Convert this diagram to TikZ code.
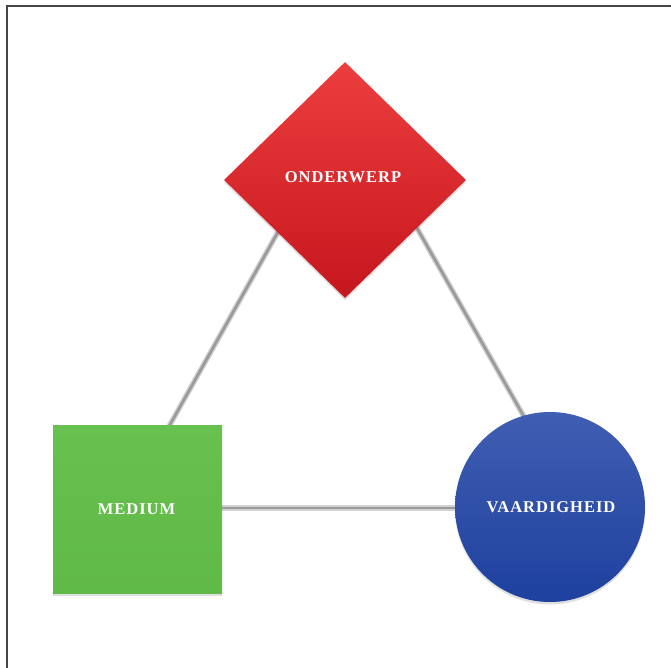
\documentclass[tikz,border=0pt]{standalone}
\usepackage{fontspec}
\newfontfamily\labelfont[LetterSpace=6]{Liberation Serif}
\usetikzlibrary{shapes.geometric,shadows}
\pgfdeclarelayer{background}
\pgfsetlayers{background,main}
\definecolor{redtop}{RGB}{236,62,62}
\definecolor{redbot}{RGB}{198,22,30}
\definecolor{greenfill}{RGB}{96,186,72}
\definecolor{greentop}{RGB}{104,192,78}
\definecolor{bluetop}{RGB}{64,94,178}
\definecolor{bluebot}{RGB}{30,64,158}
\definecolor{frameline}{RGB}{70,70,70}
\definecolor{linkouter}{RGB}{210,210,210}
\definecolor{linkinner}{RGB}{155,155,155}
\tikzset{
  lbl/.style={text=white,font=\labelfont\bfseries\fontsize{16.5}{18}\selectfont},
  shapebox/.style={draw=none,inner sep=0pt,
    drop shadow={opacity=0.25,shadow xshift=0pt,shadow yshift=-2.5pt}},
  linkout/.style={draw=linkouter,line width=5.5pt},
  linkin/.style={draw=linkinner,line width=2.8pt},
}
\begin{document}
\begin{tikzpicture}[x=1pt,y=-1pt]
\useasboundingbox (0,0) rectangle (671,668);
\draw[frameline,line width=2pt] (6.5,668) -- (6.5,5.8) -- (671,5.8);

% nodes
\node[shapebox,diamond,aspect=1,minimum width=242pt,minimum height=236pt,
  top color=redtop,bottom color=redbot] (O) at (345,180) {};
\node[lbl] (Ot) at (343,177) {ONDERWERP};
\node[shapebox,rectangle,minimum width=169pt,minimum height=168pt,
  top color=greentop,bottom color=greenfill] (M) at (137.5,509) {};
\node[lbl] (Mt) at (136.5,509) {MEDIUM};
\node[shapebox,circle,minimum size=190pt,
  top color=bluetop,bottom color=bluebot] (V) at (550,507) {};
\node[lbl] (Vt) at (551,507) {VAARDIGHEID};

% connector end points
\coordinate (oL) at (292,207);
\coordinate (mT) at (167,430);
\coordinate (oR) at (405,207);
\coordinate (vT) at (527,422);
\coordinate (mR) at (210,508);
\coordinate (vL) at (470,508);

\begin{pgfonlayer}{background}
\foreach \a/\b in {oL/mT,oR/vT,mR/vL}{
  \draw[linkout] (\a) -- (\b);
  \draw[linkin] (\a) -- (\b);
}
\end{pgfonlayer}
\end{tikzpicture}
\end{document}
